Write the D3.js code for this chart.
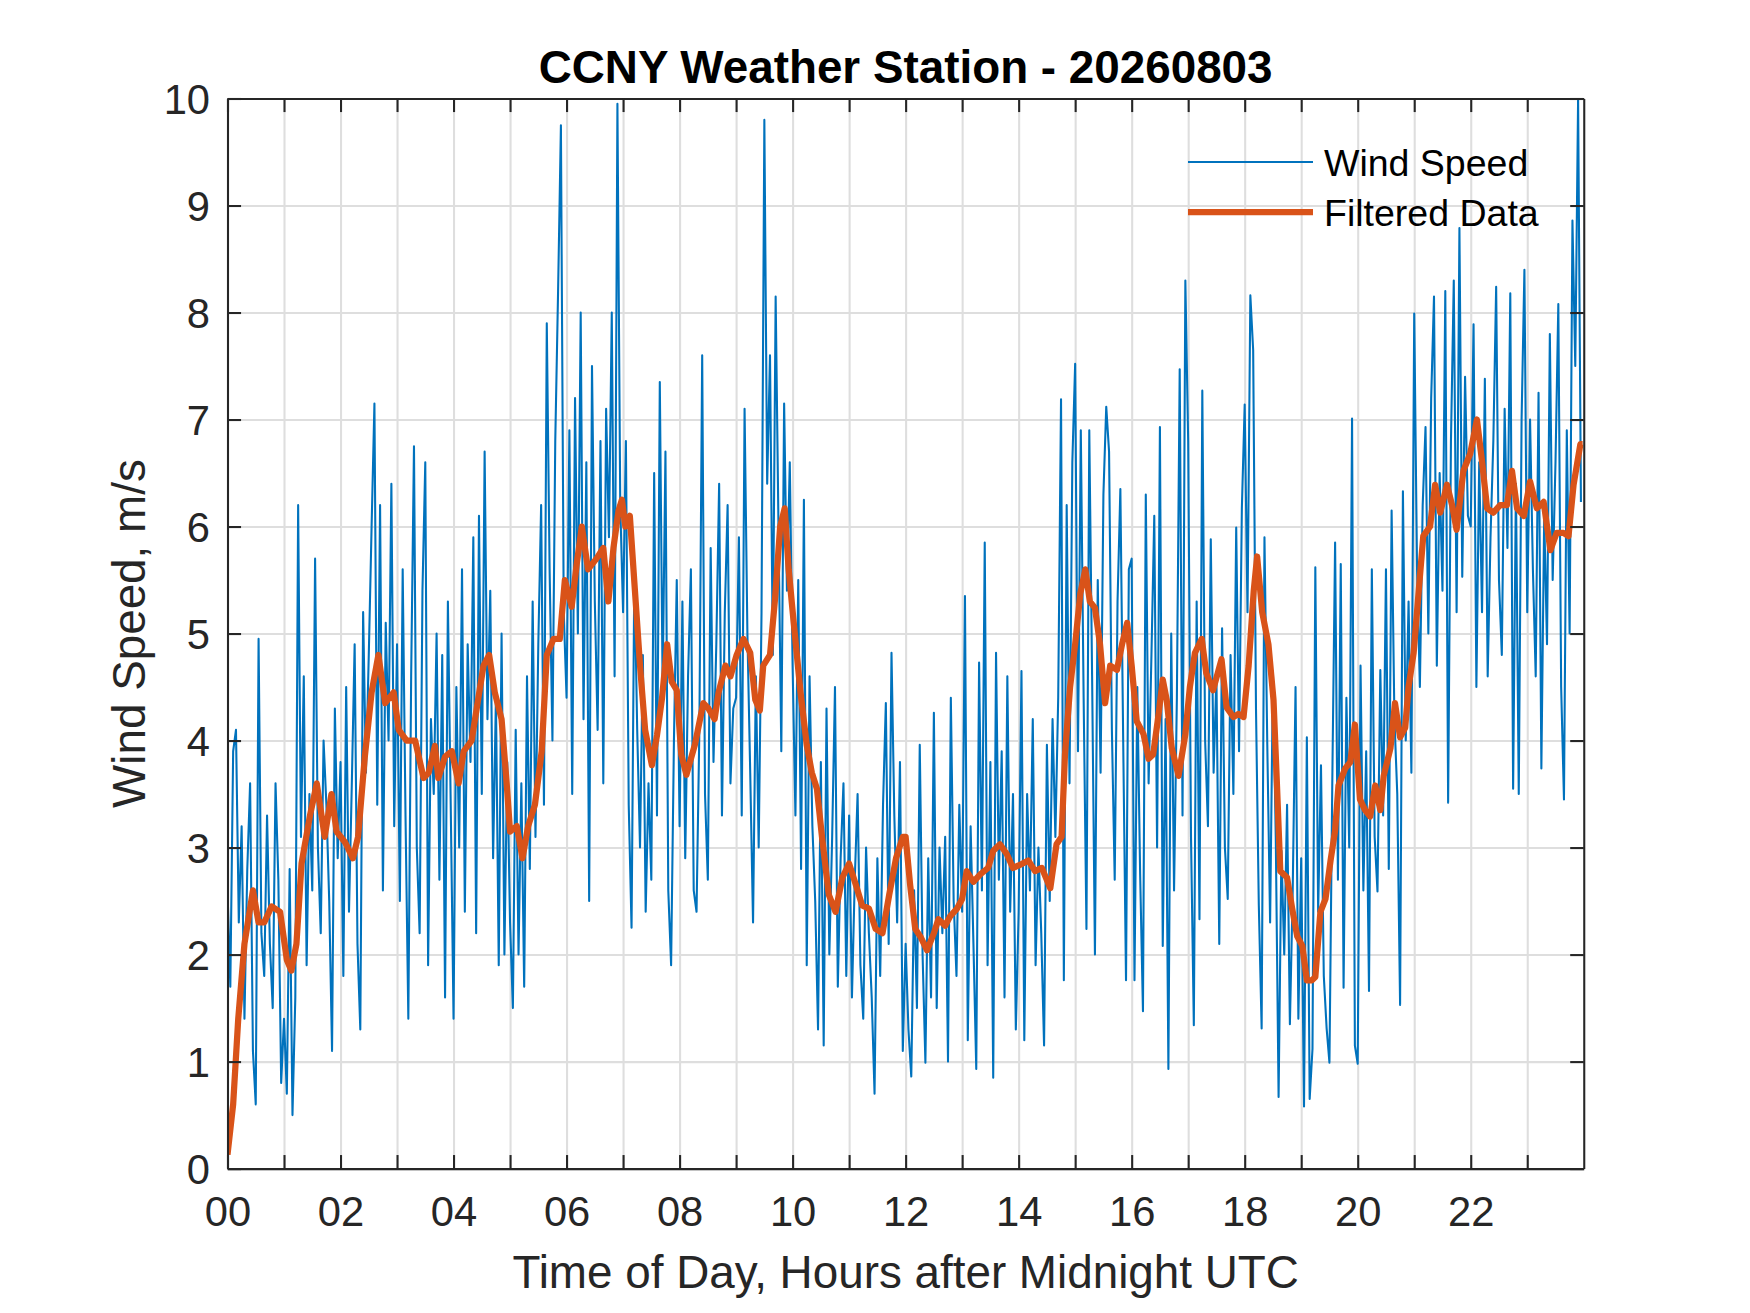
<!DOCTYPE html>
<html>
<head>
<meta charset="utf-8">
<script src="https://cdn.jsdelivr.net/npm/d3@7"></script>
<style>
  html, body { margin: 0; padding: 0; background: #fff; }
  svg { display: block; font-family: "Liberation Sans", Arial, Helvetica, sans-serif; }
  .axis text { fill: #262626; font-size: 41.7px; }
  .axis .domain { stroke: #262626; stroke-width: 2.08px; }
  .axis .tick line { stroke: #262626; stroke-width: 2.08px; }
  .grid .tick line { stroke: #dedede; stroke-width: 2.08px; }
  .grid .domain { display: none; }
</style>
</head>
<body>
<svg id="chart"></svg>
<script>
const MARGIN = { top: 98.5, right: 166.25, bottom: 144.4, left: 227.5 };
const WIDTH = 1750 - MARGIN.left - MARGIN.right;
const HEIGHT = 1313 - MARGIN.top - MARGIN.bottom;
const TICK_LEN = 13.56;

const BLUE = '#0072BD';
const ORANGE = '#D95319';

// axis ticks
const hourTicks = d3.range(0, 24);
const speedTicks = d3.range(0, 11);

// wind speed, m/s, one sample every 3 minutes (20 per hour)
const SAMPLE_HOURS = 0.05;
const windSpeed = [
  2.6, 1.7, 3.9, 4.1, 2.3, 3.2, 1.4, 2.8, 3.6, 1.1, 0.6, 4.95, 2.2, 1.8, 3.3, 2.1, 1.5, 3.6, 2.7, 0.8, // 00
  1.4, 0.7, 2.8, 0.5, 1.6, 6.2, 3.1, 4.6, 1.9, 3.5, 2.6, 5.7, 3.0, 2.2, 4.0, 3.4, 2.5, 1.1, 4.3, 2.9, // 01
  3.8, 1.8, 4.5, 2.4, 3.6, 4.9, 2.1, 1.3, 5.2, 3.7, 4.8, 6.0, 7.15, 3.4, 6.2, 2.6, 5.1, 4.0, 6.4, 3.2, // 02
  4.9, 2.5, 5.6, 3.3, 1.4, 4.6, 6.75, 3.0, 2.2, 5.4, 6.6, 1.9, 4.2, 3.5, 5.0, 2.7, 4.8, 1.6, 5.3, 3.4, // 03
  1.4, 4.5, 3.0, 5.6, 2.4, 4.9, 3.8, 5.9, 2.2, 6.1, 3.5, 6.7, 4.2, 5.4, 2.9, 4.4, 1.9, 5.0, 2.0, 3.8, // 04
  2.3, 1.5, 4.1, 2.0, 3.6, 1.7, 4.6, 2.8, 5.3, 3.1, 4.9, 6.2, 3.4, 7.9, 5.6, 4.0, 6.8, 8.2, 9.75, 5.2, // 05
  4.4, 6.9, 3.5, 7.2, 5.0, 8.0, 4.2, 6.6, 2.5, 7.5, 5.3, 4.1, 6.8, 3.6, 7.1, 5.9, 8.0, 4.6, 9.95, 6.2, // 06
  5.2, 6.8, 3.4, 2.25, 5.6, 4.1, 3.0, 4.8, 2.4, 3.6, 2.7, 6.5, 3.3, 7.35, 4.5, 6.7, 2.6, 1.9, 4.0, 5.5, // 07
  3.2, 5.3, 2.9, 4.6, 5.6, 2.6, 2.4, 4.1, 7.6, 3.5, 2.7, 5.8, 3.8, 4.9, 6.4, 3.3, 5.2, 6.2, 3.6, 4.3, // 08
  4.4, 5.9, 3.3, 7.1, 5.0, 3.7, 2.3, 4.6, 3.0, 5.2, 9.8, 6.4, 7.6, 4.8, 8.15, 6.0, 3.9, 7.15, 5.4, 6.6, // 09
  4.7, 3.3, 5.5, 2.8, 6.25, 1.9, 4.6, 3.2, 2.5, 1.3, 3.8, 1.15, 4.3, 2.0, 3.1, 4.5, 1.7, 2.9, 3.6, 1.8, // 10
  3.3, 1.6, 2.7, 3.5, 1.9, 1.4, 3.0, 2.2, 1.6, 0.7, 2.9, 1.8, 3.4, 4.35, 2.1, 4.82, 3.3, 2.3, 3.8, 1.1, // 11
  2.1, 1.3, 0.86, 2.6, 1.5, 3.96, 2.0, 0.99, 2.9, 1.6, 4.26, 1.5, 3.0, 2.2, 3.1, 1.0, 4.4, 2.5, 1.8, 3.4, // 12
  2.4, 5.35, 1.2, 3.2, 2.1, 0.93, 4.73, 2.6, 5.85, 1.9, 3.8, 0.85, 4.82, 2.7, 3.9, 1.6, 4.6, 2.4, 3.5, 1.3, // 13
  2.4, 4.65, 1.2, 3.5, 2.6, 4.2, 1.9, 3.0, 2.2, 1.15, 3.96, 2.5, 4.2, 3.1, 4.4, 7.19, 1.76, 6.2, 3.6, 6.6, // 14
  7.52, 3.9, 6.9, 4.4, 2.24, 6.9, 4.6, 2.0, 5.5, 3.7, 6.3, 7.12, 6.7, 4.1, 2.7, 5.3, 6.35, 4.0, 1.76, 5.6, // 15
  5.7, 1.76, 4.5, 2.75, 1.47, 6.3, 3.6, 4.8, 6.1, 3.0, 6.93, 2.08, 4.2, 0.93, 5.0, 2.6, 4.4, 7.47, 3.3, 8.3, // 16
  6.8, 3.1, 1.34, 5.3, 2.33, 7.27, 4.0, 3.2, 5.88, 3.7, 4.6, 2.1, 5.05, 3.0, 2.52, 4.8, 3.5, 5.99, 3.9, 6.17, // 17
  7.14, 5.2, 8.16, 7.65, 4.3, 2.46, 1.31, 5.9, 3.96, 2.3, 4.63, 3.1, 0.67, 2.97, 2.0, 3.4, 1.35, 2.6, 4.5, 1.4, // 18
  2.9, 0.58, 4.03, 0.65, 1.12, 5.62, 2.4, 3.77, 1.8, 1.31, 0.99, 3.6, 5.85, 2.7, 5.65, 1.69, 4.4, 3.0, 7.01, 1.15, // 19
  0.98, 4.7, 2.6, 3.9, 1.66, 5.6, 3.1, 2.59, 4.66, 3.3, 5.6, 2.8, 6.15, 4.2, 3.5, 1.53, 6.33, 4.0, 5.3, 3.7, // 20
  7.99, 5.6, 4.5, 6.2, 6.93, 5.0, 7.2, 8.15, 4.7, 6.5, 5.4, 8.2, 3.42, 6.8, 8.3, 5.2, 8.79, 5.53, 7.4, 6.1, // 21
  6.0, 7.89, 4.5, 6.6, 5.2, 7.38, 4.6, 5.9, 6.8, 8.24, 5.5, 4.8, 7.1, 5.8, 8.18, 3.55, 6.4, 3.5, 7.0, 8.4, // 22
  5.2, 7.0, 5.6, 4.6, 7.25, 3.74, 6.1, 4.9, 7.8, 5.5, 6.6, 8.08, 4.5, 3.45, 6.9, 5.0, 8.86, 7.5, 10.0, 6.23, // 23
];
const windHours = windSpeed.map((v, i) => i * SAMPLE_HOURS);

// filtered wind speed
const filteredHours = [
  0.0, 0.1, 0.19, 0.3, 0.45, 0.55, 0.65, 0.78, 0.93, 1.05, 1.13, 1.22, 1.31, 1.46, 1.58, 1.72, 1.84, 1.93,
  2.08, 2.22, 2.31, 2.43, 2.55, 2.67, 2.79, 2.94, 3.03, 3.17, 3.32, 3.47, 3.56, 3.67, 3.73, 3.85, 3.97,
  4.09, 4.18, 4.32, 4.44, 4.53, 4.63, 4.73, 4.85, 4.94, 5.0, 5.12, 5.22, 5.32, 5.44, 5.56, 5.65, 5.77, 5.88, 5.97,
  6.09, 6.18, 6.27, 6.38, 6.53, 6.65, 6.74, 6.83, 6.92, 6.98, 7.04, 7.12, 7.21, 7.3, 7.39, 7.51, 7.6, 7.69, 7.78, 7.86, 7.95,
  8.03, 8.12, 8.27, 8.42, 8.51, 8.62, 8.69, 8.81, 8.9, 9.01, 9.13, 9.25, 9.34, 9.42, 9.48, 9.6, 9.69, 9.78, 9.86, 9.93,
  10.02, 10.14, 10.25, 10.34, 10.43, 10.52, 10.64, 10.76, 10.88, 11.0, 11.12, 11.23, 11.35, 11.47, 11.59, 11.71, 11.83, 11.95,
  12.0, 12.08, 12.17, 12.26, 12.38, 12.5, 12.58, 12.7, 12.79, 12.91, 13.0, 13.08, 13.2, 13.32, 13.46, 13.55, 13.67, 13.79, 13.9,
  14.03, 14.17, 14.29, 14.41, 14.56, 14.67, 14.76, 14.82, 14.91, 15.0, 15.09, 15.18, 15.26, 15.35, 15.44, 15.53, 15.62, 15.74, 15.83, 15.92,
  16.0, 16.09, 16.21, 16.3, 16.38, 16.47, 16.55, 16.62, 16.71, 16.83, 16.95, 17.03, 17.12, 17.24, 17.32, 17.44, 17.59, 17.68, 17.8, 17.89, 17.98,
  18.07, 18.16, 18.22, 18.31, 18.42, 18.51, 18.57, 18.63, 18.75, 18.84, 18.93, 19.02, 19.1, 19.19, 19.25, 19.34, 19.43, 19.52, 19.6, 19.66, 19.78, 19.87, 19.95,
  20.04, 20.13, 20.22, 20.31, 20.4, 20.46, 20.58, 20.66, 20.75, 20.84, 20.9, 20.99, 21.08, 21.16, 21.28, 21.37, 21.46, 21.58, 21.67, 21.75, 21.87, 21.99,
  22.11, 22.2, 22.29, 22.4, 22.52, 22.64, 22.73, 22.82, 22.94, 23.05, 23.17, 23.29, 23.41, 23.52, 23.64, 23.73, 23.82, 23.94, 23.98,
];
const filteredSpeed = [
  0.13, 0.6, 1.4, 2.1, 2.6, 2.3, 2.3, 2.45, 2.4, 1.95, 1.85, 2.1, 2.85, 3.3, 3.6, 3.1, 3.5, 3.15,
  3.05, 2.9, 3.1, 3.85, 4.45, 4.8, 4.35, 4.45, 4.1, 4.0, 4.0, 3.65, 3.7, 3.95, 3.65, 3.85, 3.9,
  3.6, 3.9, 4.0, 4.4, 4.7, 4.8, 4.45, 4.2, 3.6, 3.15, 3.2, 2.9, 3.2, 3.4, 3.9, 4.8, 4.95, 4.95, 5.5,
  5.25, 5.65, 6.0, 5.6, 5.7, 5.8, 5.3, 5.8, 6.15, 6.25, 6.0, 6.1, 5.4, 4.7, 4.1, 3.77, 4.05, 4.4, 4.9, 4.55, 4.47,
  3.87, 3.68, 3.96, 4.35, 4.3, 4.2, 4.45, 4.7, 4.6, 4.8, 4.95, 4.82, 4.38, 4.28, 4.7, 4.8, 5.33, 6.0, 6.17, 5.6,
  5.1, 4.45, 3.96, 3.7, 3.55, 3.1, 2.56, 2.4, 2.72, 2.85, 2.65, 2.46, 2.43, 2.24, 2.2, 2.56, 2.9, 3.1,
  3.1, 2.65, 2.24, 2.17, 2.04, 2.2, 2.33, 2.27, 2.36, 2.43, 2.52, 2.78, 2.68, 2.75, 2.81, 2.97, 3.03, 2.94, 2.81,
  2.84, 2.88, 2.78, 2.81, 2.62, 3.03, 3.1, 3.87, 4.5, 4.9, 5.37, 5.6, 5.3, 5.24, 4.9, 4.35, 4.7, 4.66, 4.9, 5.1,
  4.7, 4.18, 4.06, 3.83, 3.87, 4.22, 4.57, 4.38, 3.93, 3.67, 4.06, 4.5, 4.82, 4.95, 4.63, 4.47, 4.76, 4.31, 4.22, 4.25, 4.22,
  4.7, 5.4, 5.72, 5.2, 4.9, 4.38, 3.6, 2.78, 2.72, 2.43, 2.17, 2.08, 1.76, 1.76, 1.79, 2.4, 2.52, 2.88, 3.16, 3.58, 3.74, 3.8, 4.15,
  3.45, 3.35, 3.29, 3.58, 3.35, 3.67, 3.93, 4.35, 4.03, 4.12, 4.5, 4.82, 5.4, 5.91, 6.0, 6.39, 6.13, 6.39, 6.2, 5.97, 6.52, 6.68,
  7.0, 6.61, 6.17, 6.13, 6.2, 6.2, 6.52, 6.17, 6.1, 6.42, 6.17, 6.23, 5.78, 5.94, 5.94, 5.91, 6.39, 6.77, 6.77,
];

const TITLE = 'CCNY Weather Station - 20260803';
const X_LABEL = 'Time of Day, Hours after Midnight UTC';
const Y_LABEL = 'Wind Speed, m/s';
const LEGEND = [
  { name: 'Wind Speed', color: BLUE, width: 2.08 },
  { name: 'Filtered Data', color: ORANGE, width: 6.25 },
];

const svg = d3.select('#chart')
    .attr('width', 1750)
    .attr('height', 1313);

svg.append('rect')
    .attr('width', 1750)
    .attr('height', 1313)
    .attr('fill', '#fff');

const chart = svg.append('g')
    .attr('transform', `translate(${MARGIN.left},${MARGIN.top})`);

const x = d3.scaleLinear().domain([0, 24]).range([0, WIDTH]);
const y = d3.scaleLinear().domain([0, 10]).range([HEIGHT, 0]);

// grid
chart.append('g')
    .attr('class', 'grid')
    .attr('transform', `translate(0,${HEIGHT})`)
    .call(d3.axisBottom(x).tickValues(hourTicks).tickSize(-HEIGHT).tickFormat(''));
chart.append('g')
    .attr('class', 'grid')
    .call(d3.axisLeft(y).tickValues(speedTicks).tickSize(-WIDTH).tickFormat(''));

chart.append('clipPath')
    .attr('id', 'plot-clip')
  .append('rect')
    .attr('width', WIDTH)
    .attr('height', HEIGHT);

const plot = chart.append('g').attr('clip-path', 'url(#plot-clip)');

plot.append('path')
    .datum(windSpeed)
    .attr('fill', 'none')
    .attr('stroke', BLUE)
    .attr('stroke-width', 2.08)
    .attr('stroke-linejoin', 'round')
    .attr('d', d3.line().x((d, i) => x(windHours[i])).y(d => y(d)));

plot.append('path')
    .datum(filteredSpeed)
    .attr('fill', 'none')
    .attr('stroke', ORANGE)
    .attr('stroke-width', 6.25)
    .attr('stroke-linejoin', 'round')
    .attr('d', d3.line().x((d, i) => x(filteredHours[i])).y(d => y(d)));

// axes, ticks pointing inward on all four sides
const hourLabel = d => (d % 2 === 0 ? d3.format('02d')(d) : '');

chart.append('g')
    .attr('class', 'axis axis-x')
    .attr('transform', `translate(0,${HEIGHT})`)
    .call(d3.axisBottom(x).tickValues(hourTicks).tickSizeInner(-TICK_LEN).tickSizeOuter(0)
      .tickPadding(28).tickFormat(hourLabel));

chart.append('g')
    .attr('class', 'axis axis-x-top')
    .call(d3.axisTop(x).tickValues(hourTicks).tickSizeInner(-TICK_LEN).tickSizeOuter(0).tickFormat(''));

chart.append('g')
    .attr('class', 'axis axis-y')
    .call(d3.axisLeft(y).tickValues(speedTicks).tickSizeInner(-TICK_LEN).tickSizeOuter(0)
      .tickPadding(17.5));

chart.append('g')
    .attr('class', 'axis axis-y-right')
    .attr('transform', `translate(${WIDTH},0)`)
    .call(d3.axisRight(y).tickValues(speedTicks).tickSizeInner(-TICK_LEN).tickSizeOuter(0).tickFormat(''));

chart.selectAll('.axis-y .tick text').attr('dy', '0.36em');

// labels
svg.append('text')
    .attr('x', MARGIN.left + WIDTH / 2)
    .attr('y', 83)
    .attr('text-anchor', 'middle')
    .attr('font-size', 45.8)
    .attr('font-weight', 'bold')
    .attr('fill', '#000')
    .text(TITLE);

svg.append('text')
    .attr('x', MARGIN.left + WIDTH / 2)
    .attr('y', 1288)
    .attr('text-anchor', 'middle')
    .attr('font-size', 45.8)
    .attr('fill', '#262626')
    .text(X_LABEL);

svg.append('text')
    .attr('transform', `translate(145,${MARGIN.top + HEIGHT / 2}) rotate(-90)`)
    .attr('text-anchor', 'middle')
    .attr('font-size', 45.8)
    .attr('fill', '#262626')
    .text(Y_LABEL);

// legend, no box
const legend = svg.append('g')
    .attr('transform', 'translate(1188,162)');

const item = legend.selectAll('.item')
    .data(LEGEND)
  .enter()
    .append('g')
    .attr('class', 'item')
    .attr('transform', (d, i) => `translate(0,${i * 50})`);

item.append('line')
    .attr('x1', 0)
    .attr('x2', 125)
    .attr('stroke', d => d.color)
    .attr('stroke-width', d => d.width);

item.append('text')
    .attr('x', 136)
    .attr('dy', '0.36em')
    .attr('font-size', 37.5)
    .attr('fill', '#000')
    .text(d => d.name);
</script>
</body>
</html>
